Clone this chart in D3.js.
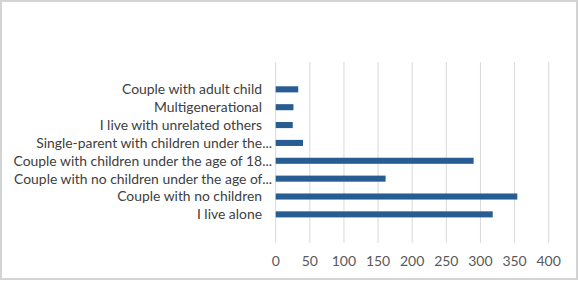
<!DOCTYPE html>
<html>
<head>
<meta charset="utf-8">
<script src="https://cdn.jsdelivr.net/npm/d3@7"></script>
<style>
  body { margin: 0; background: #fff; }
  svg { display: block; }
</style>
</head>
<body>
<div id="chart"></div>
<script>
// categories, top to bottom as drawn
const categories = [
    "Couple with adult child",
    "Multigenerational",
    "I live with unrelated others",
    "Single-parent with children under the...",
    "Couple with children under the age of 18...",
    "Couple with no children under the age of...",
    "Couple with no children",
    "I live alone"
];
const values = [33, 26, 25, 40, 290, 161, 354, 318];
const tickValues = [0, 50, 100, 150, 200, 250, 300, 350, 400];

const width = 579, height = 281;

const svg = d3.select("#chart")
    .append("svg")
    .attr("width", width)
    .attr("height", height);

// outer frame
svg.append("rect")
    .attr("x", 1)
    .attr("y", 1)
    .attr("width", width - 3)
    .attr("height", height - 3)
    .style("fill", "#fff")
    .style("stroke", "#d4d4d4")
    .style("stroke-width", 2);

const x = d3.scaleLinear().domain([0, 400]).range([275.7, 548.7]);
const y = d3.scaleBand().domain(categories).range([80.4, 223.3]).paddingInner(0.66).paddingOuter(0.33);

const gridTop = 62, gridBottom = 243;

// vertical gridlines
svg.append("g")
    .selectAll("line")
    .data(tickValues)
    .join("line")
    .attr("x1", d => x(d))
    .attr("x2", d => x(d))
    .attr("y1", gridTop)
    .attr("y2", gridBottom)
    .style("stroke", "#d9d9d9")
    .style("stroke-width", 1);

// bars
svg.append("g")
    .selectAll("rect")
    .data(categories)
    .join("rect")
    .attr("x", x(0))
    .attr("y", d => y(d))
    .attr("width", (d, i) => x(values[i]) - x(0))
    .attr("height", y.bandwidth())
    .style("fill", "#275d93");

// category labels
svg.append("g")
    .selectAll("text")
    .data(categories)
    .join("text")
    .attr("x", d => d.endsWith("...") ? 272 : 262)
    .attr("y", d => y(d) + y.bandwidth() / 2)
    .attr("dy", "0.35em")
    .attr("text-anchor", "end")
    .style("font-family", "Lato, sans-serif")
    .style("font-size", "13.9px")
    .style("fill", "#404040")
    .text(d => d);

// x tick labels
svg.append("g")
    .selectAll("text")
    .data(tickValues)
    .join("text")
    .attr("x", d => x(d))
    .attr("y", 261)
    .attr("dy", "0.35em")
    .attr("text-anchor", "middle")
    .style("font-family", "Lato, sans-serif")
    .style("font-size", "14px")
    .style("fill", "#595959")
    .text(d => d);
</script>
</body>
</html>
